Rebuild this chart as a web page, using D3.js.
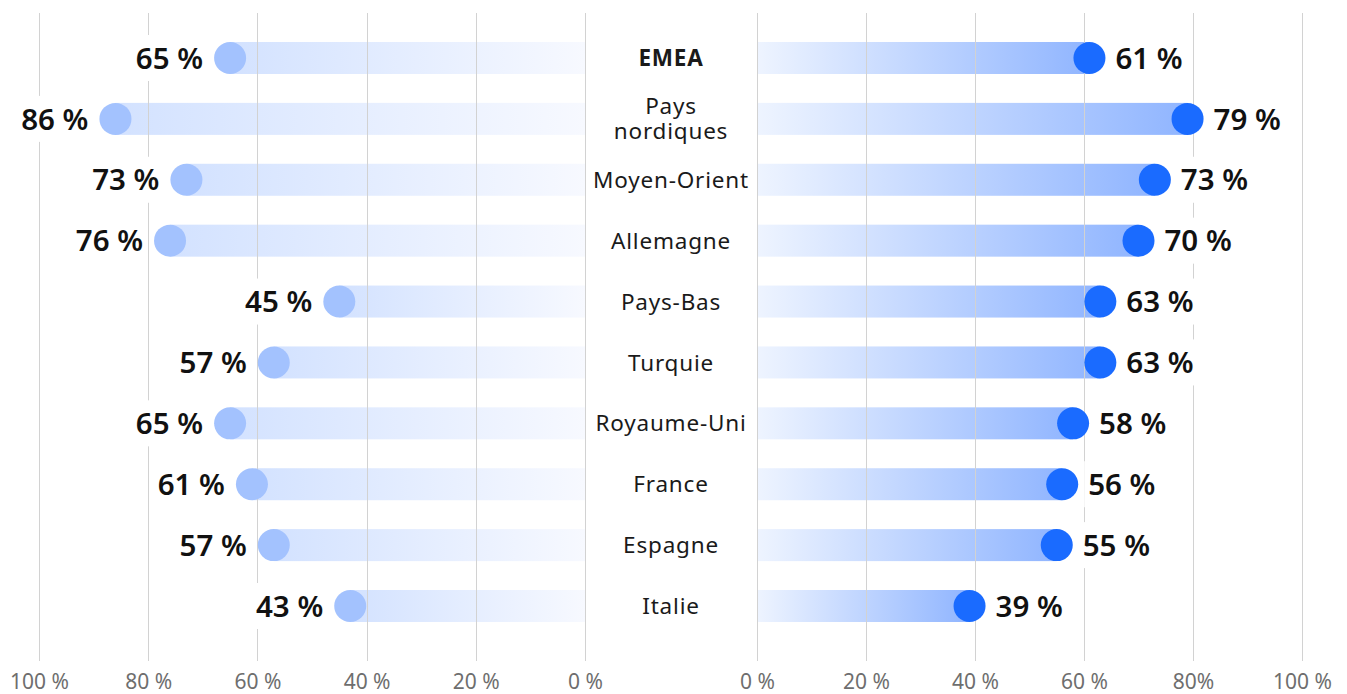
<!DOCTYPE html>
<html>
<head>
<meta charset="utf-8">
<script src="https://cdn.jsdelivr.net/npm/d3@7/dist/d3.min.js"></script>
<style>
  html, body { margin: 0; padding: 0; background: #fff; }
  svg { display: block; font-family: "Noto Sans", sans-serif; }
</style>
</head>
<body>
<svg id="chart" width="1347" height="694"></svg>
<script>
// Regions, top to bottom
const categories = ["EMEA", "Pays nordiques", "Moyen-Orient", "Allemagne", "Pays-Bas",
                    "Turquie", "Royaume-Uni", "France", "Espagne", "Italie"];
// Left-hand series (percent)
const leftValues = [65, 86, 73, 76, 45, 57, 65, 61, 57, 43];
// Right-hand series (percent)
const rightValues = [61, 79, 73, 70, 63, 63, 58, 56, 55, 39];
// Axis ticks and their labels
const tickValues = [0, 20, 40, 60, 80, 100];
const leftTickLabels = ["0 %", "20 %", "40 %", "60 %", "80 %", "100 %"];
const rightTickLabels = ["0 %", "20 %", "40 %", "60 %", "80%", "100 %"];

const svg = d3.select("#chart");

const xLeft = d3.scaleLinear().domain([0, 100]).range([585, 39]);
const xRight = d3.scaleLinear().domain([0, 100]).range([757, 1302]);
const y = d3.scalePoint().domain(categories).range([58, 606]);

const barH = 32, dotR = 16;
const gridTop = 13, gridBottom = 661;

const defs = svg.append("defs");
const gl = defs.append("linearGradient").attr("id", "gradLeft")
  .attr("x1", "0").attr("x2", "1").attr("y1", "0").attr("y2", "0");
gl.append("stop").attr("offset", "0").attr("stop-color", "#d3e2ff");
gl.append("stop").attr("offset", "1").attr("stop-color", "#f7f9ff");
const gr = defs.append("linearGradient").attr("id", "gradRight")
  .attr("x1", "0").attr("x2", "1").attr("y1", "0").attr("y2", "0");
gr.append("stop").attr("offset", "0").attr("stop-color", "#eef4ff");
gr.append("stop").attr("offset", "1").attr("stop-color", "#90b5ff");

const rows = categories.map((c, i) => ({ c, l: leftValues[i], r: rightValues[i] }));

// Bars
svg.append("g").selectAll("rect").data(rows).join("rect")
  .attr("x", d => xLeft(d.l))
  .attr("y", d => y(d.c) - barH / 2)
  .attr("width", d => xLeft(0) - xLeft(d.l))
  .attr("height", barH)
  .attr("fill", "url(#gradLeft)");
svg.append("g").selectAll("rect").data(rows).join("rect")
  .attr("x", xRight(0))
  .attr("y", d => y(d.c) - barH / 2)
  .attr("width", d => xRight(d.r) - xRight(0))
  .attr("height", barH)
  .attr("fill", "url(#gradRight)");

// Vertical gridlines
const grid = svg.append("g").attr("stroke", "#d2d2d2").attr("stroke-width", 1);
[xLeft, xRight].forEach(sc => {
  grid.selectAll(null).data(tickValues).join("line")
    .attr("x1", d => Math.round(sc(d)) + 0.5)
    .attr("x2", d => Math.round(sc(d)) + 0.5)
    .attr("y1", gridTop).attr("y2", gridBottom);
});

// Value labels with a white backing box
const labelG = svg.append("g");
function valueLabel(x, yc, text, anchor) {
  const g = labelG.append("g");
  const rect = g.append("rect").attr("fill", "#fff");
  const t = g.append("text")
    .attr("x", x).attr("y", yc).attr("dy", "0.36em")
    .attr("text-anchor", anchor)
    .attr("font-size", 29.5).attr("font-weight", 600).attr("fill", "#111")
    .text(text);
  const bb = t.node().getBBox();
  rect.attr("x", bb.x - 4).attr("width", bb.width + 8)
    .attr("y", yc - 23).attr("height", 46);
}
rows.forEach(d => {
  valueLabel(xLeft(d.l) - dotR - 11, y(d.c), d.l + " %", "end");
  valueLabel(xRight(d.r) + dotR + 10, y(d.c), d.r + " %", "start");
});

// Dots
svg.append("g").selectAll("circle").data(rows).join("circle")
  .attr("cx", d => xLeft(d.l)).attr("cy", d => y(d.c)).attr("r", dotR)
  .attr("fill", "#a3c2fe");
svg.append("g").selectAll("circle").data(rows).join("circle")
  .attr("cx", d => xRight(d.r)).attr("cy", d => y(d.c)).attr("r", dotR)
  .attr("fill", "#1a6bff");

// Category labels in the middle column
const midX = (xLeft(0) + xRight(0)) / 2;
const catSize = 22.5;
const cat = svg.append("g").selectAll("text").data(categories).join("text")
  .attr("x", midX).attr("y", d => y(d))
  .attr("text-anchor", "middle")
  .attr("font-size", catSize)
  .attr("letter-spacing", 0.8)
  .attr("fill", "#1a1a1a")
  .attr("font-weight", (d, i) => i === 0 ? 700 : 400);
cat.each(function(d) {
  const lines = d.split(" ");
  const el = d3.select(this);
  const lh = 25;
  lines.forEach((ln, k) => {
    el.append("tspan")
      .attr("x", midX)
      .attr("dy", k === 0 ? (0.36 * catSize - (lines.length - 1) * lh / 2) : lh)
      .text(ln);
  });
});

// Bottom axes
function drawAxis(sc, labels) {
  const ax = d3.axisBottom(sc).tickValues(tickValues).tickSize(0)
    .tickFormat((d, i) => labels[i]);
  const g = svg.append("g").attr("transform", "translate(0,667)").call(ax);
  g.select(".domain").remove();
  g.selectAll("text")
    .attr("font-family", "'Noto Sans', sans-serif")
    .attr("font-size", 21).attr("fill", "#6e6e6e").attr("dy", "0.9em");
}
drawAxis(xLeft, leftTickLabels);
drawAxis(xRight, rightTickLabels);
</script>
</body>
</html>
